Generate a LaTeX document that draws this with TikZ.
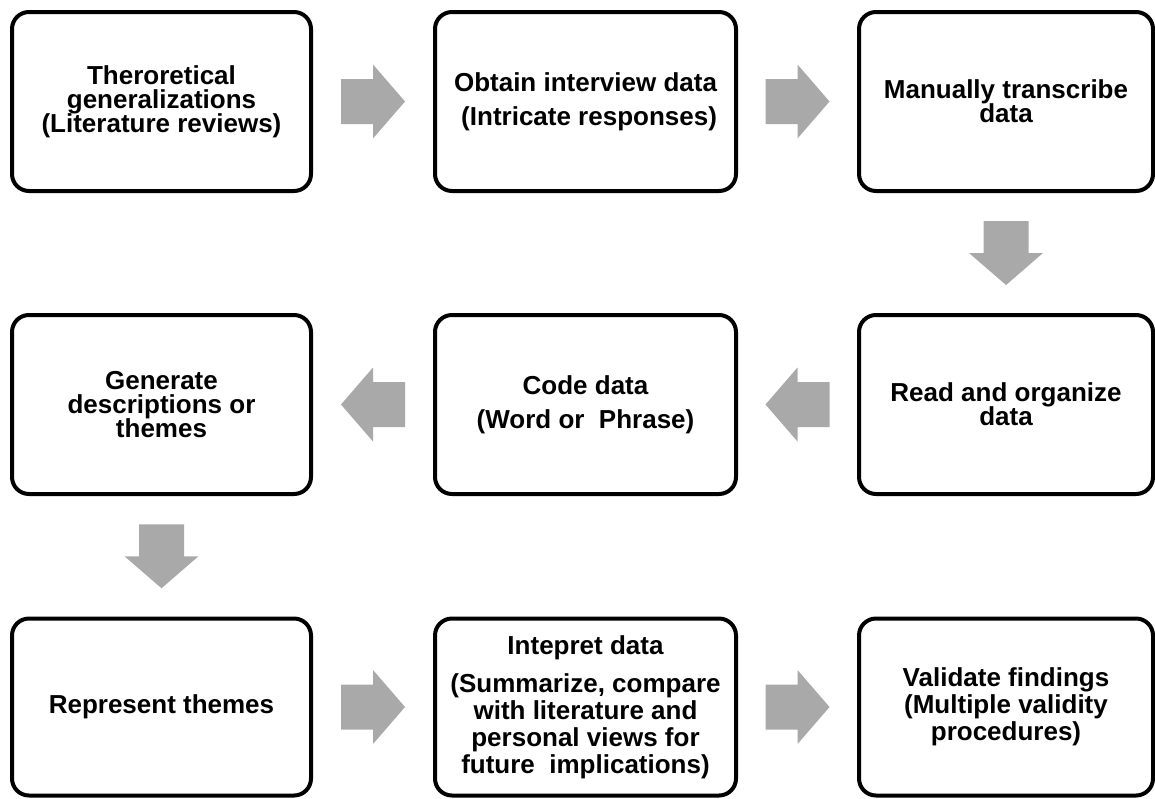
\documentclass[tikz,border=0pt]{standalone}
\usepackage{fontspec}
\setmainfont{Liberation Sans}
\usetikzlibrary{calc}
\definecolor{arrowgray}{RGB}{169,169,169}
\newcommand{\tightlines}{\lineskiplimit=-100pt\relax}
\begin{document}
\begin{tikzpicture}[x=1pt,y=-1pt,
  stepbox/.style={draw=black, line width=4pt, rounded corners=17pt, fill=white,
    minimum height=179pt, inner sep=0pt, align=center,
    font=\fontsize{26}{24}\selectfont\bfseries\tightlines},
  looser/.style={font=\fontsize{26}{27}\selectfont\bfseries\tightlines},
  colA/.style={minimum width=299pt},
  colB/.style={minimum width=301pt},
  colC/.style={minimum width=294pt},
  barrow/.pic={\fill[arrowgray] (-32,-22.5) -- (0,-22.5) -- (0,-37) -- (32,0) -- (0,37) -- (0,22.5) -- (-32,22.5) -- cycle;}
]
\useasboundingbox (0,0) rectangle (1155,798);

\node[stepbox,colA] (n1) at (161.5,101.5) {Theroretical\\generalizations\\(Literature reviews)};
\node[stepbox,colB] (n2) at (585.5,101.5) {Obtain interview data\\[10pt]\ (Intricate responses)};
\node[stepbox,colC] (n3) at (1006,101.5) {Manually transcribe\\data};

\node[stepbox,colC] (n4) at (1006,404.5) {Read and organize\\data};
\node[stepbox,colB] (n5) at (585.5,404.5) {Code data\\[10pt](Word or\ \ Phrase)};
\node[stepbox,colA] (n6) at (161.5,404.5) {Generate\\descriptions or\\themes};

\node[stepbox,colA,minimum height=177pt] (n7) at (161.5,707) {Represent themes};
\node[stepbox,colB,minimum height=177pt,looser] (n8) at (585.5,707) {Intepret data\\[11pt](Summarize, compare\\with literature and\\personal views for\\future\ \ implications)};
\node[stepbox,colC,minimum height=177pt,looser] (n9) at (1006,707) {Validate findings\\(Multiple validity\\procedures)};

\pic at ($(n1.east)!0.5!(n2.west)$) {barrow};
\pic at ($(n2.east)!0.5!(n3.west)$) {barrow};
\pic[rotate=-90] at ($(n3.south)!0.5!(n4.north)$) {barrow};
\pic[rotate=180] at ($(n4.west)!0.5!(n5.east)$) {barrow};
\pic[rotate=180] at ($(n5.west)!0.5!(n6.east)$) {barrow};
\pic[rotate=-90] at ($(n6.south)!0.5!(n7.north)$) {barrow};
\pic at ($(n7.east)!0.5!(n8.west)$) {barrow};
\pic at ($(n8.east)!0.5!(n9.west)$) {barrow};
\end{tikzpicture}
\end{document}
